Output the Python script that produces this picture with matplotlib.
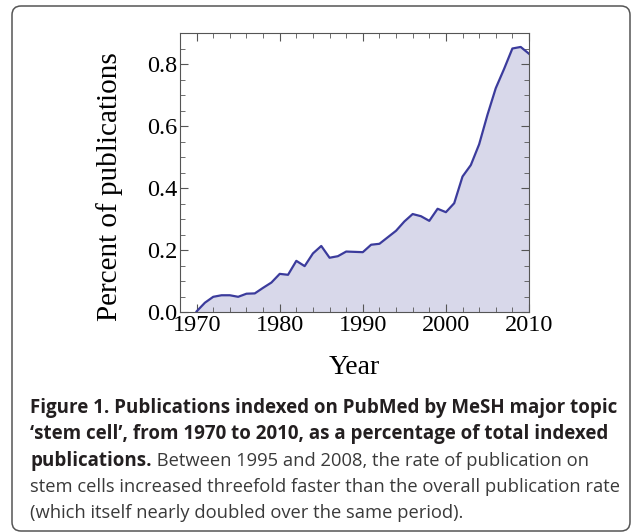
import matplotlib
matplotlib.use('Agg')

import matplotlib.pyplot as plt
from matplotlib.patches import FancyBboxPatch
from matplotlib.ticker import MultipleLocator, FormatStrFormatter
import numpy as np

# percent of PubMed publications with MeSH major topic 'stem cell'
years = np.arange(1970, 2011)
percent = [0.002, 0.030, 0.049, 0.054, 0.054, 0.049, 0.059, 0.060, 0.078, 0.095,
           0.123, 0.120, 0.165, 0.148, 0.189, 0.213, 0.175, 0.180, 0.195, 0.194,
           0.193, 0.217, 0.220, 0.241, 0.262, 0.292, 0.316, 0.309, 0.294, 0.333,
           0.322, 0.351, 0.437, 0.474, 0.541, 0.636, 0.722, 0.784, 0.850, 0.855,
           0.833]

caption_bold = ['Figure 1. Publications indexed on PubMed by MeSH major topic',
                '\u2018stem cell\u2019, from 1970 to 2010, as a percentage of total indexed',
                'publications.']
caption_plain = [' Between 1995 and 2008, the rate of publication on',
                 'stem cells increased threefold faster than the overall publication rate',
                 '(which itself nearly doubled over the same period).']

W, H = 631, 532
fig = plt.figure(figsize=(W / 100, H / 100), dpi=100)

# rounded frame around figure + caption (pixel units / 100 -> inches)
frame = FancyBboxPatch((12 / 100, 1 / 100), 618 / 100, 525 / 100,
                       boxstyle='round,pad=0,rounding_size=0.09',
                       transform=fig.dpi_scale_trans, fill=False,
                       edgecolor='#555555', linewidth=1.1, clip_on=False)
fig.patches.append(frame)

ax = fig.add_axes([180 / W, 1 - 312 / H, 349 / W, 279 / H])
line_col = '#3b3b9c'
ax.fill_between(years, percent, 0, color='#d8d8ea', linewidth=0)
ax.plot(years, percent, color=line_col, linewidth=1.6)
ax.set_xlim(1968, 2010)
ax.set_ylim(0, 0.9)
ax.xaxis.set_major_locator(MultipleLocator(10))
ax.xaxis.set_minor_locator(MultipleLocator(2))
ax.yaxis.set_major_locator(MultipleLocator(0.2))
ax.yaxis.set_minor_locator(MultipleLocator(0.05))
ax.yaxis.set_major_formatter(FormatStrFormatter('%.1f'))
ax.tick_params(which='both', direction='in', top=True, right=True,
               color='#555555', labelsize=17.5, pad=2)
ax.tick_params(which='major', length=6, width=0.8)
ax.tick_params(which='minor', length=3.5, width=0.6)
for lab in ax.get_xticklabels() + ax.get_yticklabels():
    lab.set_fontfamily('Liberation Serif')
for s in ax.spines.values():
    s.set_color('#555555')
    s.set_linewidth(0.8)
ax.set_xlabel('Year', fontfamily='Liberation Serif', fontsize=20, labelpad=14)
ax.set_ylabel('Percent of publications', fontfamily='Liberation Serif', fontsize=21)
ax.yaxis.label.set_va('center')
ax.yaxis.set_label_coords(-0.203, 0.448)

# caption, scaled so the widest lines reach the right margin
fam = 'Open Sans'
x0 = 30 / W
base = [413, 439.5, 466, 492, 518]
r = fig.canvas.get_renderer()

def fit(txt, weight, target):
    t = fig.text(0, 0, txt, fontfamily=fam, fontweight=weight, fontsize=12)
    w = t.get_window_extent(renderer=r).width
    t.remove()
    return 12 * target / w

fs_b = fit(caption_bold[0], 'bold', 587)
fs_p = fit(caption_plain[1], 'normal', 588)

for i in range(2):
    fig.text(x0, 1 - base[i] / H, caption_bold[i], fontfamily=fam, fontweight='bold',
             fontsize=fs_b, color='#231f20', va='baseline')
t = fig.text(x0, 1 - base[2] / H, caption_bold[2], fontfamily=fam, fontweight='bold',
             fontsize=fs_b, color='#231f20', va='baseline')
bb = t.get_window_extent(renderer=r)
fig.text(bb.x1 / W, 1 - base[2] / H, caption_plain[0], fontfamily=fam,
         fontsize=fs_p, color='#3a3a3a', va='baseline')
for i in range(1, 3):
    fig.text(x0, 1 - base[i + 2] / H, caption_plain[i], fontfamily=fam,
             fontsize=fs_p, color='#3a3a3a', va='baseline')

fig.savefig('out.png', dpi=100)
